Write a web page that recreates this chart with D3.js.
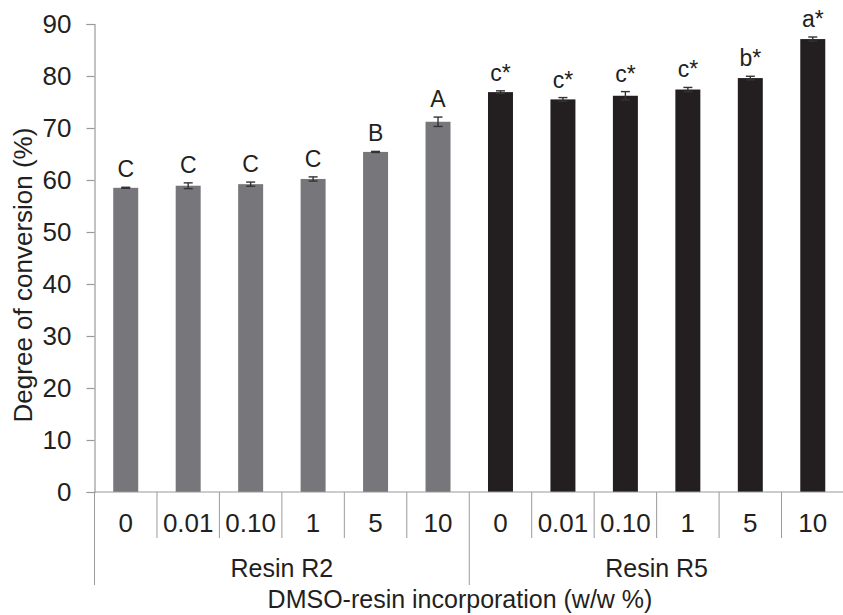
<!DOCTYPE html>
<html>
<head>
<meta charset="utf-8">
<script src="https://cdn.jsdelivr.net/npm/d3@7"></script>
<style>
  html, body { margin: 0; padding: 0; background: #fff; }
  svg { display: block; font-family: "Liberation Sans", Arial, sans-serif; }
</style>
</head>
<body>
<svg id="chart" width="843" height="615"></svg>
<script>
// ---- data ----
const groups = ["Resin R2", "Resin R5"];
const concentrations = ["0", "0.01", "0.10", "1", "5", "10"];
const r2Values = [58.5, 58.9, 59.2, 60.2, 65.4, 71.2];
const r2Errors = [0.1, 0.55, 0.4, 0.4, 0.1, 0.9];
const r2Letters = ["C", "C", "C", "C", "B", "A"];
const r5Values = [76.9, 75.5, 76.2, 77.4, 79.6, 87.1];
const r5Errors = [0.25, 0.35, 0.8, 0.4, 0.35, 0.4];
const r5Letters = ["c*", "c*", "c*", "c*", "b*", "a*"];
const yTicks = [0, 10, 20, 30, 40, 50, 60, 70, 80, 90];
const yTitle = "Degree of conversion (%)";
const xTitle = "DMSO-resin incorporation (w/w %)";

const groupColors = ["#77777b", "#231f20"];

const rows = [];
[[r2Values, r2Errors, r2Letters], [r5Values, r5Errors, r5Letters]].forEach((g, gi) => {
  concentrations.forEach((c, i) => {
    rows.push({ group: groups[gi], gi, conc: c, key: gi + "-" + i,
                value: g[0][i], err: g[1][i], letter: g[2][i] });
  });
});

// ---- layout ----
const svg = d3.select("#chart");
const mLeft = 94.5, mRight = 844, mTop = 24, mBottom = 492;
const textColor = "#231f20";
const axisColor = "#9a9a9a";

const x = d3.scaleBand().domain(rows.map(d => d.key)).range([mLeft, mRight])
  .paddingInner(0.6).paddingOuter(0.3);
const step = x.step();
const y = d3.scaleLinear().domain([0, 90]).range([mBottom, mTop]);

// y axis
const yAxis = d3.axisLeft(y).tickValues(yTicks).tickSize(8).tickPadding(15);
const yg = svg.append("g").attr("transform", `translate(${mLeft},0)`).call(yAxis);
yg.select(".domain").attr("stroke", axisColor).attr("stroke-width", 1.2);
yg.selectAll(".tick line").attr("stroke", axisColor).attr("stroke-width", 1.2);
yg.selectAll(".tick text").attr("fill", textColor).style("font-size", "26px")
  .attr("font-family", "'Liberation Sans', Arial, sans-serif");

// bars
svg.append("g").selectAll("rect").data(rows).join("rect")
  .attr("x", d => x(d.key))
  .attr("width", x.bandwidth())
  .attr("y", d => y(d.value))
  .attr("height", d => y(0) - y(d.value))
  .attr("fill", d => groupColors[d.gi]);

// error bars
const eg = svg.append("g").attr("stroke", "#333").attr("stroke-width", 1.4);
rows.forEach(d => {
  const cx = x(d.key) + x.bandwidth() / 2;
  const y1 = y(d.value + d.err), y2 = y(d.value - d.err);
  eg.append("line").attr("x1", cx).attr("x2", cx).attr("y1", y1).attr("y2", y2);
  eg.append("line").attr("x1", cx - 4.5).attr("x2", cx + 4.5).attr("y1", y1).attr("y2", y1);
  eg.append("line").attr("x1", cx - 4.5).attr("x2", cx + 4.5).attr("y1", y2).attr("y2", y2);
});

// letters
svg.append("g").selectAll("text").data(rows).join("text")
  .attr("x", d => x(d.key) + x.bandwidth() / 2)
  .attr("y", d => y(d.value + d.err) - 10)
  .attr("text-anchor", "middle")
  .attr("fill", textColor)
  .style("font-size", "23px")
  .text(d => d.letter);

// bottom axis line
svg.append("line").attr("x1", mLeft).attr("x2", 843).attr("y1", mBottom).attr("y2", mBottom)
  .attr("stroke", axisColor).attr("stroke-width", 1.2);

// category separators
const catSep = d3.range(1, rows.length).filter(i => i % concentrations.length !== 0);
svg.append("g").selectAll("line").data(catSep).join("line")
  .attr("x1", i => mLeft + i * step).attr("x2", i => mLeft + i * step)
  .attr("y1", mBottom).attr("y2", 538)
  .attr("stroke", axisColor).attr("stroke-width", 1);

// group separators
const grpSep = [0, concentrations.length];
svg.append("g").selectAll("line").data(grpSep).join("line")
  .attr("x1", i => mLeft + i * step).attr("x2", i => mLeft + i * step)
  .attr("y1", mBottom).attr("y2", 585)
  .attr("stroke", axisColor).attr("stroke-width", 1);

// category labels
svg.append("g").selectAll("text").data(rows).join("text")
  .attr("x", d => x(d.key) + x.bandwidth() / 2)
  .attr("y", 532)
  .attr("text-anchor", "middle")
  .attr("fill", textColor)
  .style("font-size", "26px")
  .text(d => d.conc);

// group labels
svg.append("g").selectAll("text").data(groups).join("text")
  .attr("x", (g, gi) => mLeft + (gi + 0.5) * concentrations.length * step)
  .attr("y", 577)
  .attr("text-anchor", "middle")
  .attr("fill", textColor)
  .style("font-size", "25px")
  .text(g => g);

// axis titles
svg.append("text")
  .attr("transform", `translate(32,275) rotate(-90)`)
  .attr("text-anchor", "middle")
  .attr("fill", textColor)
  .style("font-size", "26px")
  .text(yTitle);

svg.append("text")
  .attr("x", 460).attr("y", 608)
  .attr("text-anchor", "middle")
  .attr("fill", textColor)
  .style("font-size", "25px")
  .text(xTitle);
</script>
</body>
</html>
